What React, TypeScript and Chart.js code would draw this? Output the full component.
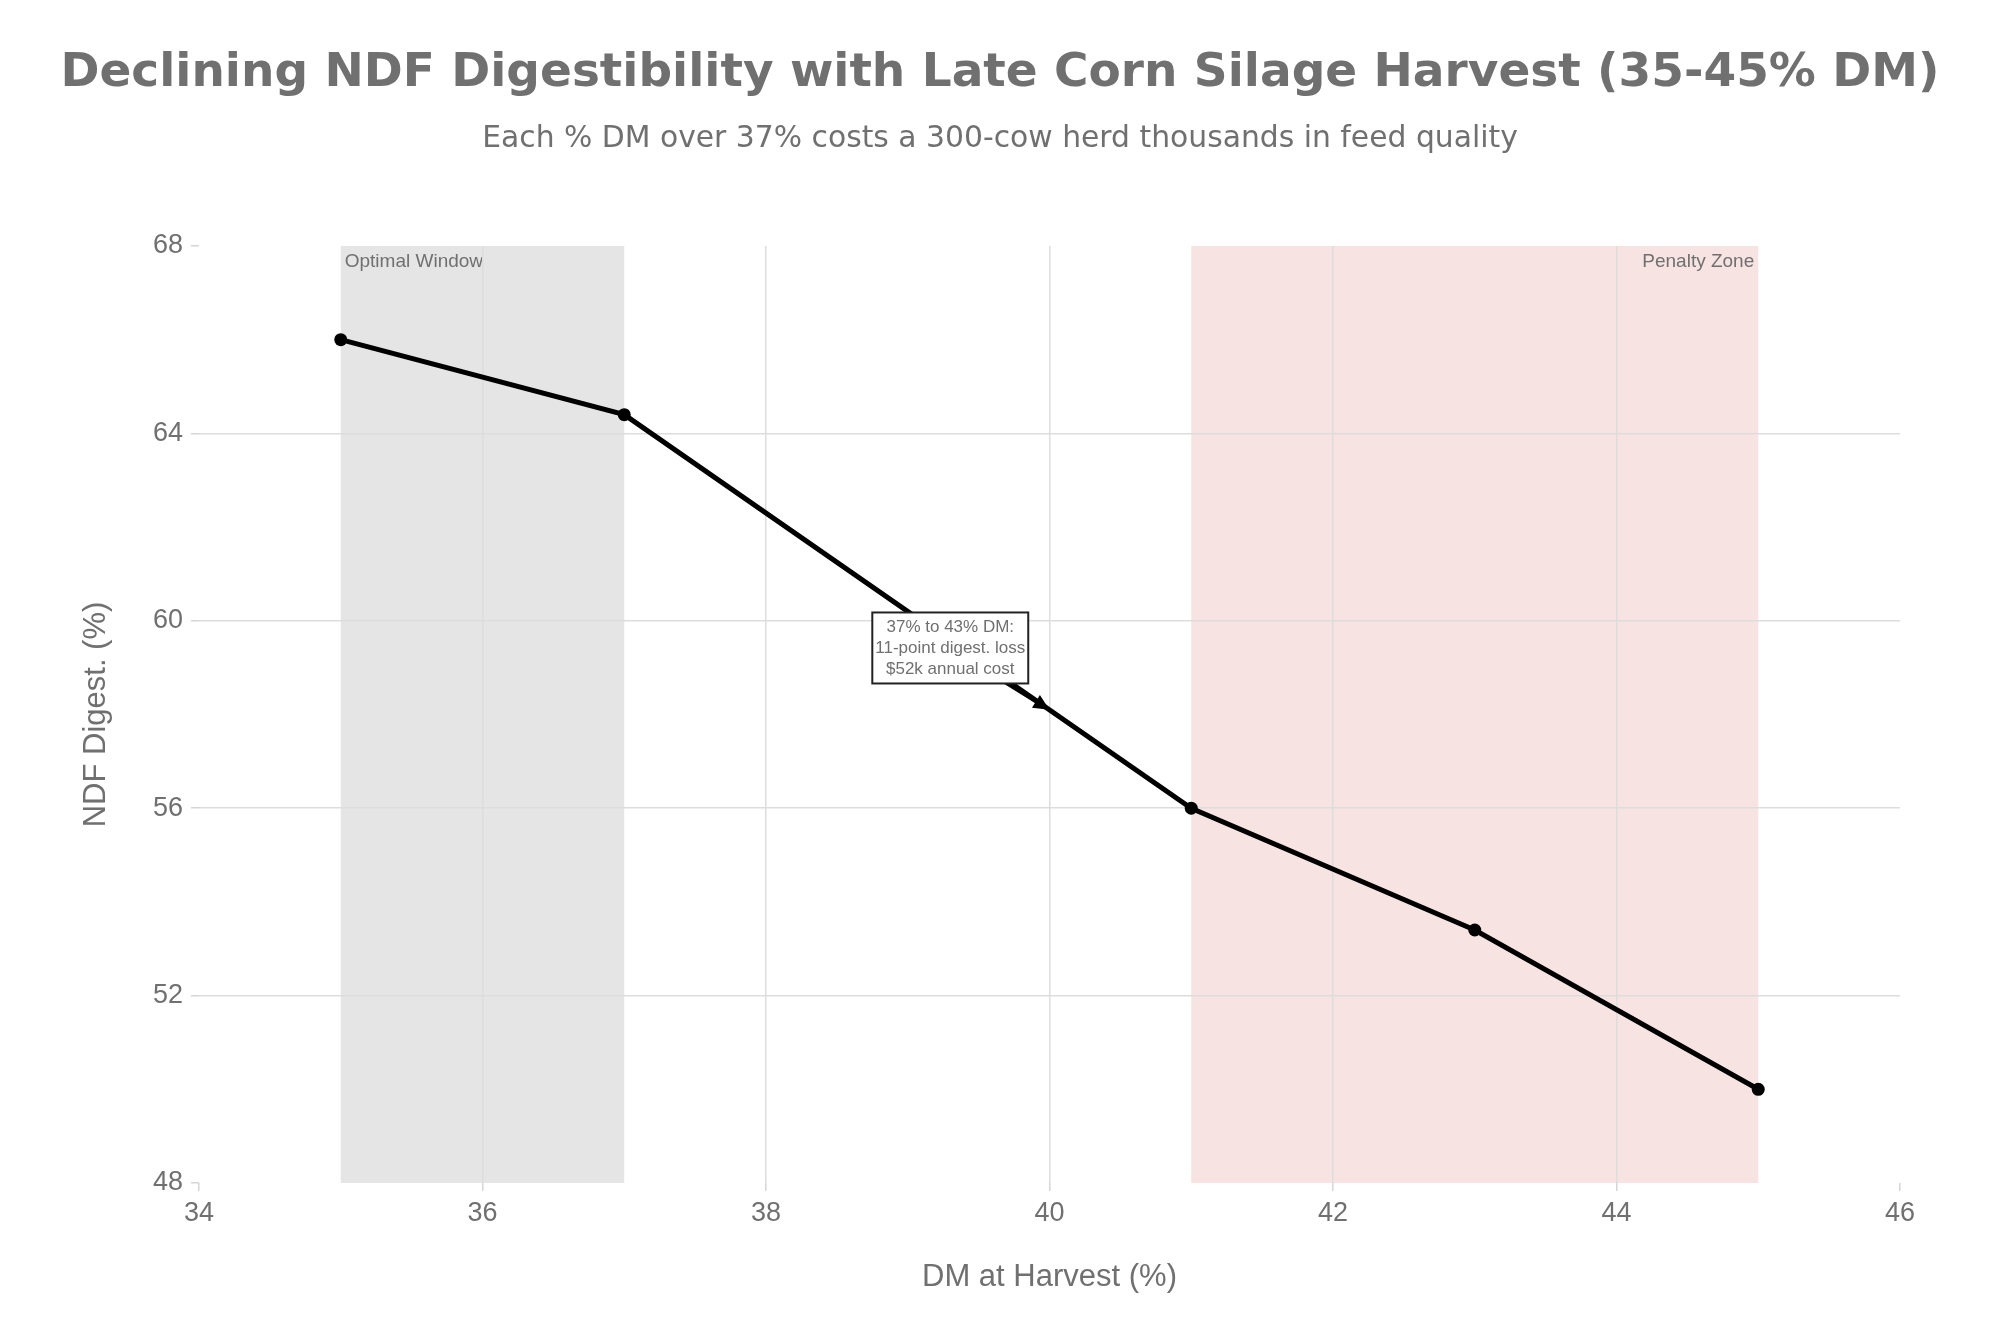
import React, { useEffect, useRef } from "react";
import { Chart, registerables } from "chart.js";

Chart.register(...registerables);

const TITLE = "Declining NDF Digestibility with Late Corn Silage Harvest (35-45% DM)";
const SUBTITLE = "Each % DM over 37% costs a 300-cow herd thousands in feed quality";
const X_LABEL = "DM at Harvest (%)";
const Y_LABEL = "NDF Digest. (%)";

const dmValues = [35, 37, 41, 43, 45];
const ndfValues = [66.0, 64.4, 56.0, 53.4, 50.0];

const zoneNames = ["Optimal Window", "Penalty Zone"];
const zoneStarts = [35, 41];
const zoneEnds = [37, 45];
const zoneColors = ["#e5e5e5", "#f8e3e3"];

const annotationLines = ["37% to 43% DM:", "11-point digest. loss", "$52k annual cost"];
const annotationCenter = { x: 39.3, y: 59.42 };
const annotationTip = { x: 40, y: 58.1 };

const TEXT_GRAY = "#707070";
const SANS = "'Liberation Sans', Arial, Helvetica, sans-serif";

const zonesPlugin = {
  id: "zones",
  beforeDraw(chart: any) {
    const { ctx, chartArea, scales } = chart;
    ctx.save();
    zoneNames.forEach((name, i) => {
      const x0 = scales.x.getPixelForValue(zoneStarts[i]);
      const x1 = scales.x.getPixelForValue(zoneEnds[i]);
      ctx.fillStyle = zoneColors[i];
      ctx.fillRect(x0, chartArea.top, x1 - x0, chartArea.bottom - chartArea.top);
      ctx.fillStyle = TEXT_GRAY;
      ctx.font = `19px ${SANS}`;
      ctx.textBaseline = "middle";
      if (i === 0) {
        ctx.textAlign = "left";
        ctx.fillText(name, x0 + 4, chartArea.top + 16);
      } else {
        ctx.textAlign = "right";
        ctx.fillText(name, x1 - 4, chartArea.top + 16);
      }
    });
    ctx.restore();
  },
};

const headerPlugin = {
  id: "header",
  afterDraw(chart: any) {
    const { ctx } = chart;
    ctx.save();
    ctx.fillStyle = TEXT_GRAY;
    ctx.textAlign = "center";
    ctx.textBaseline = "middle";
    ctx.font = `bold 47px 'DejaVu Sans', sans-serif`;
    ctx.fillText(TITLE, 1000, 74);
    ctx.font = `29.8px 'DejaVu Sans', sans-serif`;
    ctx.fillText(SUBTITLE, 1000, 139);
    ctx.restore();
  },
};

const annotationPlugin = {
  id: "annot",
  afterDatasetsDraw(chart: any) {
    const { ctx, scales } = chart;
    const cx = scales.x.getPixelForValue(annotationCenter.x);
    const cy = scales.y.getPixelForValue(annotationCenter.y);
    const tx = scales.x.getPixelForValue(annotationTip.x);
    const ty = scales.y.getPixelForValue(annotationTip.y);
    ctx.save();
    const ang = Math.atan2(ty - cy, tx - cx);
    const headLen = 16;
    const headW = 7.5;
    const bx = tx - headLen * Math.cos(ang);
    const by = ty - headLen * Math.sin(ang);
    ctx.strokeStyle = "#000";
    ctx.lineWidth = 4;
    ctx.beginPath();
    ctx.moveTo(cx, cy);
    ctx.lineTo(bx, by);
    ctx.stroke();
    ctx.fillStyle = "#000";
    ctx.beginPath();
    ctx.moveTo(tx, ty);
    ctx.lineTo(bx + headW * Math.sin(ang), by - headW * Math.cos(ang));
    ctx.lineTo(bx - headW * Math.sin(ang), by + headW * Math.cos(ang));
    ctx.closePath();
    ctx.fill();
    ctx.font = `17px ${SANS}`;
    const lineH = 21;
    let maxW = 0;
    annotationLines.forEach((l) => (maxW = Math.max(maxW, ctx.measureText(l).width)));
    const w = maxW + 6;
    const h = lineH * annotationLines.length + 8;
    ctx.fillStyle = "#fff";
    ctx.fillRect(cx - w / 2, cy - h / 2, w, h);
    ctx.lineWidth = 2;
    ctx.strokeStyle = "#222";
    ctx.strokeRect(cx - w / 2, cy - h / 2, w, h);
    ctx.fillStyle = TEXT_GRAY;
    ctx.textAlign = "center";
    ctx.textBaseline = "middle";
    annotationLines.forEach((l, i) => {
      ctx.fillText(l, cx, cy + (i - (annotationLines.length - 1) / 2) * lineH);
    });
    ctx.restore();
  },
};

export default function App() {
  const ref = useRef<HTMLCanvasElement | null>(null);
  useEffect(() => {
    if (!ref.current) return;
    const gridColor = (ctx: any) => {
      const n = ctx.chart?.scales?.[ctx.scale?.id]?.ticks?.length ?? 0;
      if (ctx.index === 0 || ctx.index === n - 1) return "rgba(0,0,0,0)";
      return "#dddddd";
    };
    const chart = new Chart(ref.current, {
      type: "line",
      data: {
        datasets: [
          {
            data: dmValues.map((x, i) => ({ x, y: ndfValues[i] })),
            borderColor: "#000",
            backgroundColor: "#000",
            borderWidth: 5,
            pointRadius: 6.5,
            pointBorderWidth: 0,
            pointBackgroundColor: "#000",
            tension: 0,
          },
        ],
      },
      options: {
        animation: false,
        responsive: false,
        devicePixelRatio: 1,
        layout: { padding: { top: 246, left: 0, right: 100, bottom: 0 } },
        plugins: {
          legend: { display: false },
          tooltip: { enabled: false },
          title: { display: false },
        },
        scales: {
          x: {
            type: "linear",
            min: 34,
            max: 46,
            ticks: {
              stepSize: 2,
              color: TEXT_GRAY,
              font: { family: SANS, size: 27 },
              padding: 6,
            },
            grid: {
              color: gridColor,
              tickColor: "#d5d5d5",
              tickLength: 8,
              lineWidth: 1.5,
            },
            border: { display: false },
            title: {
              display: true,
              text: X_LABEL,
              color: TEXT_GRAY,
              font: { family: SANS, size: 31 },
              padding: { top: 0, bottom: 37 },
            },
            afterFit: (s: any) => {
              s.height = 150;
            },
          },
          y: {
            type: "linear",
            min: 48,
            max: 68,
            ticks: {
              stepSize: 4,
              color: TEXT_GRAY,
              font: { family: SANS, size: 27 },
              padding: 8,
            },
            grid: {
              color: gridColor,
              tickColor: "#d5d5d5",
              tickLength: 8,
              lineWidth: 1.5,
            },
            border: { display: false },
            title: {
              display: true,
              text: Y_LABEL,
              color: TEXT_GRAY,
              font: { family: SANS, size: 31 },
              padding: { top: 78, bottom: 0 },
            },
            afterFit: (s: any) => {
              s.width = 199;
            },
          },
        },
      },
      plugins: [zonesPlugin, headerPlugin, annotationPlugin],
    });
    return () => chart.destroy();
  }, []);
  return (
    <div style={{ position: "fixed", left: 0, top: 0, width: 2000, height: 1333, background: "#fff" }}>
      <canvas ref={ref} width={2000} height={1333} style={{ width: 2000, height: 1333, display: "block" }} />
    </div>
  );
}
